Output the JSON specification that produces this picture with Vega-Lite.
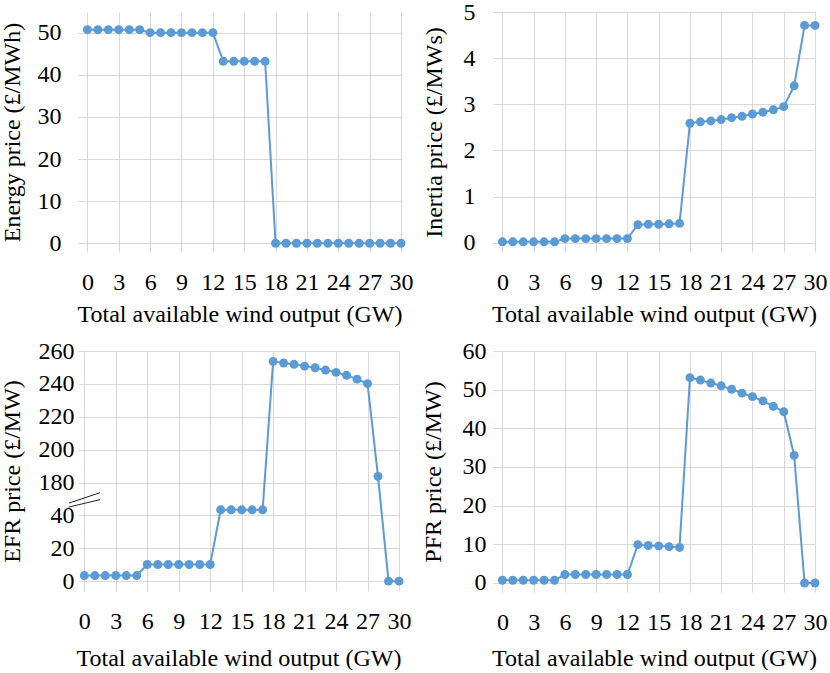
{
  "$schema": "https://vega.github.io/schema/vega-lite/v6.json",
  "padding": {"left": 0, "top": 0, "right": 0, "bottom": 0},
  "background": "white",
  "datasets": {
    "prices": [
      {"x": 0, "energy": 50.7, "inertia": 0.02, "efr": 3.4, "pfr": 0.7},
      {"x": 1, "energy": 50.7, "inertia": 0.02, "efr": 3.4, "pfr": 0.7},
      {"x": 2, "energy": 50.7, "inertia": 0.02, "efr": 3.4, "pfr": 0.7},
      {"x": 3, "energy": 50.7, "inertia": 0.02, "efr": 3.4, "pfr": 0.7},
      {"x": 4, "energy": 50.7, "inertia": 0.02, "efr": 3.4, "pfr": 0.7},
      {"x": 5, "energy": 50.7, "inertia": 0.02, "efr": 3.4, "pfr": 0.7},
      {"x": 6, "energy": 50.0, "inertia": 0.09, "efr": 10.1, "pfr": 2.2},
      {"x": 7, "energy": 50.0, "inertia": 0.09, "efr": 10.1, "pfr": 2.2},
      {"x": 8, "energy": 50.0, "inertia": 0.09, "efr": 10.1, "pfr": 2.2},
      {"x": 9, "energy": 50.0, "inertia": 0.09, "efr": 10.1, "pfr": 2.2},
      {"x": 10, "energy": 50.0, "inertia": 0.09, "efr": 10.1, "pfr": 2.2},
      {"x": 11, "energy": 50.0, "inertia": 0.09, "efr": 10.1, "pfr": 2.2},
      {"x": 12, "energy": 50.0, "inertia": 0.09, "efr": 10.1, "pfr": 2.2},
      {"x": 13, "energy": 43.2, "inertia": 0.39, "efr": 43.4, "pfr": 9.9},
      {"x": 14, "energy": 43.2, "inertia": 0.40, "efr": 43.4, "pfr": 9.7},
      {"x": 15, "energy": 43.2, "inertia": 0.40, "efr": 43.4, "pfr": 9.6},
      {"x": 16, "energy": 43.2, "inertia": 0.41, "efr": 43.4, "pfr": 9.4},
      {"x": 17, "energy": 43.2, "inertia": 0.42, "efr": 43.4, "pfr": 9.2},
      {"x": 18, "energy": 0, "inertia": 2.59, "efr": 253.7, "pfr": 53.1},
      {"x": 19, "energy": 0, "inertia": 2.62, "efr": 252.7, "pfr": 52.5},
      {"x": 20, "energy": 0, "inertia": 2.64, "efr": 251.9, "pfr": 51.7},
      {"x": 21, "energy": 0, "inertia": 2.67, "efr": 250.8, "pfr": 51.0},
      {"x": 22, "energy": 0, "inertia": 2.71, "efr": 249.8, "pfr": 50.1},
      {"x": 23, "energy": 0, "inertia": 2.74, "efr": 248.4, "pfr": 49.1},
      {"x": 24, "energy": 0, "inertia": 2.79, "efr": 247.0, "pfr": 48.2},
      {"x": 25, "energy": 0, "inertia": 2.83, "efr": 245.2, "pfr": 47.1},
      {"x": 26, "energy": 0, "inertia": 2.88, "efr": 242.9, "pfr": 45.7},
      {"x": 27, "energy": 0, "inertia": 2.95, "efr": 240.1, "pfr": 44.3},
      {"x": 28, "energy": 0, "inertia": 3.40, "efr": 183.7, "pfr": 33.0},
      {"x": 29, "energy": 0, "inertia": 4.71, "efr": 0, "pfr": 0},
      {"x": 30, "energy": 0, "inertia": 4.71, "efr": 0, "pfr": 0}
    ],
    "breakmarks": [
      {"xa": -1.45, "ya": 47.5, "xb": 1.5, "yb": 53.8},
      {"xa": -1.5, "ya": 45.0, "xb": 1.5, "yb": 49.6}
    ]
  },
  "concat": [
    {
      "width": 323, "height": 240,
      "data": {"name": "prices"},
      "mark": {"type": "line", "color": "#5b9bd5", "strokeWidth": 2, "point": {"filled": true, "size": 80, "color": "#5b9bd5", "opacity": 1}},
      "encoding": {
        "x": {"field": "x", "type": "quantitative", "scale": {"domain": [-0.9, 30], "nice": false, "zero": false}, "axis": {"values": [0, 3, 6, 9, 12, 15, 18, 21, 24, 27, 30], "labelOverlap": false, "labelFlush": false, "labelPadding": 18, "titlePadding": 8, "title": "Total available wind output (GW)"}},
        "y": {"field": "energy", "type": "quantitative", "scale": {"domain": [-2.07, 54.9], "nice": false, "zero": false}, "axis": {"values": [0, 10, 20, 30, 40, 50], "labelOverlap": false, "labelPadding": 17, "titlePadding": 13, "title": "Energy price (£/MWh)"}}
      }
    },
    {
      "width": 322, "height": 240,
      "data": {"name": "prices"},
      "mark": {"type": "line", "color": "#5b9bd5", "strokeWidth": 2, "point": {"filled": true, "size": 80, "color": "#5b9bd5", "opacity": 1}},
      "encoding": {
        "x": {"field": "x", "type": "quantitative", "scale": {"domain": [-0.9, 30], "nice": false, "zero": false}, "axis": {"values": [0, 3, 6, 9, 12, 15, 18, 21, 24, 27, 30], "labelOverlap": false, "labelFlush": false, "labelPadding": 18, "titlePadding": 8, "title": "Total available wind output (GW)"}},
        "y": {"field": "inertia", "type": "quantitative", "scale": {"domain": [-0.2, 5], "nice": false, "zero": false}, "axis": {"values": [0, 1, 2, 3, 4, 5], "labelOverlap": false, "labelPadding": 18, "titlePadding": 17, "title": "Inertia price (£/MWs)"}}
      }
    },
    {
      "width": 321, "height": 240,
      "layer": [
        {
          "data": {"name": "prices"},
          "mark": {"type": "line", "color": "#5b9bd5", "strokeWidth": 2, "point": {"filled": true, "size": 80, "color": "#5b9bd5", "opacity": 1}},
          "encoding": {
            "x": {"field": "x", "type": "quantitative", "scale": {"domain": [-0.6, 30], "nice": false, "zero": false}, "axis": {"values": [0, 3, 6, 9, 12, 15, 18, 21, 24, 27, 30], "labelOverlap": false, "labelFlush": false, "labelPadding": 18, "titlePadding": 13, "title": "Total available wind output (GW)"}},
            "y": {"field": "efr", "type": "quantitative", "scale": {"domain": [-6, 60, 180, 260], "range": [240, 131.5, 131.5, 0], "nice": false, "zero": false}, "axis": {"values": [0, 20, 40, 180, 200, 220, 240, 260], "labelOverlap": false, "labelPadding": 4, "titlePadding": 14, "title": "EFR price (£/MW)"}}
          }
        },
        {
          "data": {"name": "breakmarks"},
          "mark": {"type": "rule", "color": "#222222", "strokeWidth": 1},
          "encoding": {
            "x": {"field": "xa", "type": "quantitative", "axis": {"values": [0, 3, 6, 9, 12, 15, 18, 21, 24, 27, 30], "labelOverlap": false, "labelFlush": false, "labelPadding": 18, "titlePadding": 13, "title": "Total available wind output (GW)"}},
            "x2": {"field": "xb"},
            "y": {"field": "ya", "type": "quantitative", "axis": {"values": [0, 20, 40, 180, 200, 220, 240, 260], "labelOverlap": false, "labelPadding": 4, "titlePadding": 14, "title": "EFR price (£/MW)"}},
            "y2": {"field": "yb"}
          }
        }
      ]
    },
    {
      "width": 322, "height": 241,
      "data": {"name": "prices"},
      "mark": {"type": "line", "color": "#5b9bd5", "strokeWidth": 2, "point": {"filled": true, "size": 80, "color": "#5b9bd5", "opacity": 1}},
      "encoding": {
        "x": {"field": "x", "type": "quantitative", "scale": {"domain": [-0.9, 30], "nice": false, "zero": false}, "axis": {"values": [0, 3, 6, 9, 12, 15, 18, 21, 24, 27, 30], "labelOverlap": false, "labelFlush": false, "labelPadding": 18, "titlePadding": 12, "title": "Total available wind output (GW)"}},
        "y": {"field": "pfr", "type": "quantitative", "scale": {"domain": [-2.33, 60], "nice": false, "zero": false}, "axis": {"values": [0, 10, 20, 30, 40, 50, 60], "labelOverlap": false, "labelPadding": 7, "titlePadding": 17, "title": "PFR price (£/MW)"}}
      }
    }
  ],
  "columns": 2,
  "spacing": {"row": 13, "column": 8},
  "config": {
    "view": {"stroke": null},
    "axis": {
      "domain": false,
      "ticks": false,
      "grid": true,
      "gridColor": "#d9d9d9",
      "gridWidth": 1,
      "labelOverlap": false,
      "labelFont": "Liberation Serif",
      "labelFontSize": 24,
      "labelColor": "#000000",
      "labelPadding": 16,
      "titleFont": "Liberation Serif",
      "titleFontSize": 24,
      "titleFontWeight": "normal",
      "titleColor": "#000000",
      "titlePadding": 12
    },
    "axisX": {"labelPadding": 18, "titlePadding": 10, "labelFlush": false}
  }
}
